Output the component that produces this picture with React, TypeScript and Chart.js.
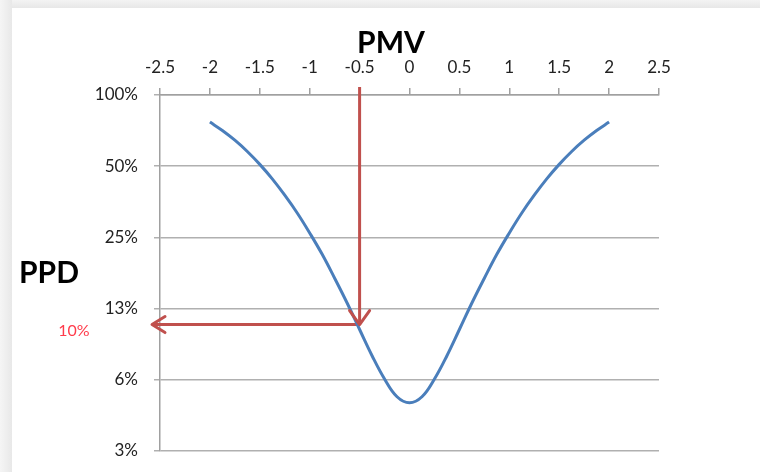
import React, { useEffect, useRef } from 'react';
import { Chart, registerables } from 'chart.js';

Chart.register(...registerables);

// ---- data ----
const PMV_VALUES = [
  -2, -1.875, -1.75, -1.625, -1.5, -1.375, -1.25, -1.125, -1, -0.875, -0.75, -0.625, -0.5, -0.375, -0.25, -0.125,
  0, 0.125, 0.25, 0.375, 0.5, 0.625, 0.75, 0.875, 1, 1.125, 1.25, 1.375, 1.5, 1.625, 1.75, 1.875, 2,
];
const PPD_VALUES = [
  76.8, 70.8, 64.4, 57.7, 50.9, 44.2, 37.7, 31.7, 26.1, 21.2, 16.8, 13.2, 10.2, 7.9, 6.3, 5.3,
  5.0, 5.3, 6.3, 7.9, 10.2, 13.2, 16.8, 21.2, 26.1, 31.7, 37.7, 44.2, 50.9, 57.7, 64.4, 70.8, 76.8,
];
const Y_MIN = 3.125;
const Y_MAX = 100;
const Y_TICK_VALUES = [3.125, 6.25, 12.5, 25, 50, 100];
const Y_TICK_LABELS = ['3%', '6%', '13%', '25%', '50%', '100%'];
const X_TICK_VALUES = [-2.5, -2, -1.5, -1, -0.5, 0, 0.5, 1, 1.5, 2, 2.5];
const X_TICK_LABELS = ['-2.5', '-2', '-1.5', '-1', '-0.5', '0', '0.5', '1', '1.5', '2', '2.5'];
const ARROW_PMV = -0.5;
const ARROW_PPD = 10.7;
const ARROW_TOP_PPD = 108;
const ARROW_LEFT_PMV = -2.58;
const X_TITLE = 'PMV';
const Y_TITLE = 'PPD';
const MARK_LABEL = '10%';

const BLUE = '#4a7ebb';
const RED = '#c0504d';
const TICK_COLOR = '#222222';
const FONT = 'Lato, "Open Sans", sans-serif';

const arrowHeads = {
  id: 'arrowHeads',
  afterDatasetsDraw(chart: any) {
    const { ctx, scales } = chart;
    const xs = scales.x;
    const ys = scales.y;
    ctx.save();
    ctx.strokeStyle = RED;
    ctx.lineWidth = 3;
    ctx.lineCap = 'round';
    ctx.lineJoin = 'round';
    const vx = xs.getPixelForValue(ARROW_PMV);
    const vy = ys.getPixelForValue(ARROW_PPD);
    ctx.beginPath();
    ctx.moveTo(vx - 10, vy - 14);
    ctx.lineTo(vx, vy);
    ctx.lineTo(vx + 10, vy - 14);
    ctx.stroke();
    const hx = xs.getPixelForValue(ARROW_LEFT_PMV);
    ctx.beginPath();
    ctx.moveTo(hx + 13, vy - 8);
    ctx.lineTo(hx, vy);
    ctx.lineTo(hx + 13, vy + 8);
    ctx.stroke();
    ctx.restore();
  },
  afterDraw(chart: any) {
    const { ctx, scales } = chart;
    ctx.save();
    ctx.fillStyle = '#000';
    ctx.font = `bold 30px ${FONT}`;
    ctx.textAlign = 'center';
    ctx.textBaseline = 'alphabetic';
    ctx.fillText(X_TITLE, 391, 53);
    ctx.textAlign = 'left';
    ctx.fillText(Y_TITLE, 19, 283);
    ctx.fillStyle = '#ff3b4b';
    ctx.font = `16px ${FONT}`;
    ctx.textAlign = 'center';
    ctx.textBaseline = 'middle';
    ctx.fillText(MARK_LABEL, 74, scales.y.getPixelForValue(ARROW_PPD) + 6);
    ctx.restore();
  },
};

export default function App() {
  const ref = useRef<HTMLCanvasElement | null>(null);

  useEffect(() => {
    if (!ref.current) return;
    const chart = new Chart(ref.current, {
      type: 'line',
      data: {
        datasets: [
          {
            data: PMV_VALUES.map((x, i) => ({ x, y: PPD_VALUES[i] })),
            borderColor: BLUE,
            borderWidth: 3,
            pointRadius: 0,
            tension: 0.4,
            fill: false,
          },
          {
            data: [
              { x: ARROW_PMV, y: ARROW_TOP_PPD },
              { x: ARROW_PMV, y: ARROW_PPD },
            ],
            borderColor: RED,
            borderWidth: 3,
            pointRadius: 0,
            clip: false,
            fill: false,
          },
          {
            data: [
              { x: ARROW_PMV, y: ARROW_PPD },
              { x: ARROW_LEFT_PMV, y: ARROW_PPD },
            ],
            borderColor: RED,
            borderWidth: 3,
            pointRadius: 0,
            clip: false,
            fill: false,
          },
        ],
      } as any,
      options: {
        animation: false,
        responsive: false,
        devicePixelRatio: 1,
        layout: { padding: { left: 0, top: 0, right: 101, bottom: 21 } },
        plugins: { legend: { display: false }, tooltip: { enabled: false } },
        scales: {
          x: {
            type: 'linear',
            position: 'top',
            min: -2.5,
            max: 2.5,
            afterBuildTicks: (s: any) => {
              s.ticks = X_TICK_VALUES.map((v) => ({ value: v }));
            },
            afterFit: (s: any) => {
              s.height = 95;
              s.paddingLeft = 0;
              s.paddingRight = 0;
            },
            ticks: {
              autoSkip: false,
              maxRotation: 0,
              padding: 10,
              color: TICK_COLOR,
              font: { family: FONT, size: 17 },
              callback: (v: any) => {
                const i = X_TICK_VALUES.indexOf(Number(v));
                return i >= 0 ? X_TICK_LABELS[i] : '';
              },
            },
            grid: {
              drawOnChartArea: false,
              drawTicks: true,
              tickLength: 7,
              color: '#a0a0a0',
              lineWidth: 1.5,
            },
            border: { display: true, color: '#a0a0a0', width: 1.5 },
          },
          y: {
            type: 'logarithmic',
            position: 'left',
            min: Y_MIN,
            max: Y_MAX,
            bounds: 'data',
            afterBuildTicks: (s: any) => {
              s.ticks = Y_TICK_VALUES.map((v) => ({ value: v }));
              s.min = Y_MIN;
              s.max = Y_MAX;
            },
            afterFit: (s: any) => {
              s.width = 160;
              s.paddingTop = 0;
              s.paddingBottom = 0;
            },
            ticks: {
              autoSkip: false,
              padding: 16,
              color: TICK_COLOR,
              font: { family: FONT, size: 17 },
              callback: (v: any) => {
                const i = Y_TICK_VALUES.indexOf(Number(v));
                return i >= 0 ? Y_TICK_LABELS[i] : '';
              },
            },
            grid: {
              drawOnChartArea: true,
              drawTicks: true,
              tickLength: 6,
              color: '#b0b0b0',
              lineWidth: 1.5,
            },
            border: { display: true, color: '#a0a0a0', width: 1.5 },
          },
        },
      } as any,
      plugins: [arrowHeads],
    });
    return () => chart.destroy();
  }, []);

  return (
    <div style={{ position: 'fixed', left: 0, top: 0, width: 760, height: 472, background: '#ffffff', overflow: 'hidden' }}>
      <div style={{ position: 'absolute', left: 0, top: 0, width: 760, height: 8, background: 'linear-gradient(to bottom, #f3f3f3, #e7e7e7)' }} />
      <div style={{ position: 'absolute', left: 0, top: 0, width: 12, height: 472, background: 'linear-gradient(to right, #f5f5f5, #e8e8e8)' }} />
      <canvas ref={ref} width={760} height={472} style={{ position: 'absolute', left: 0, top: 0, width: 760, height: 472 }} />
    </div>
  );
}
